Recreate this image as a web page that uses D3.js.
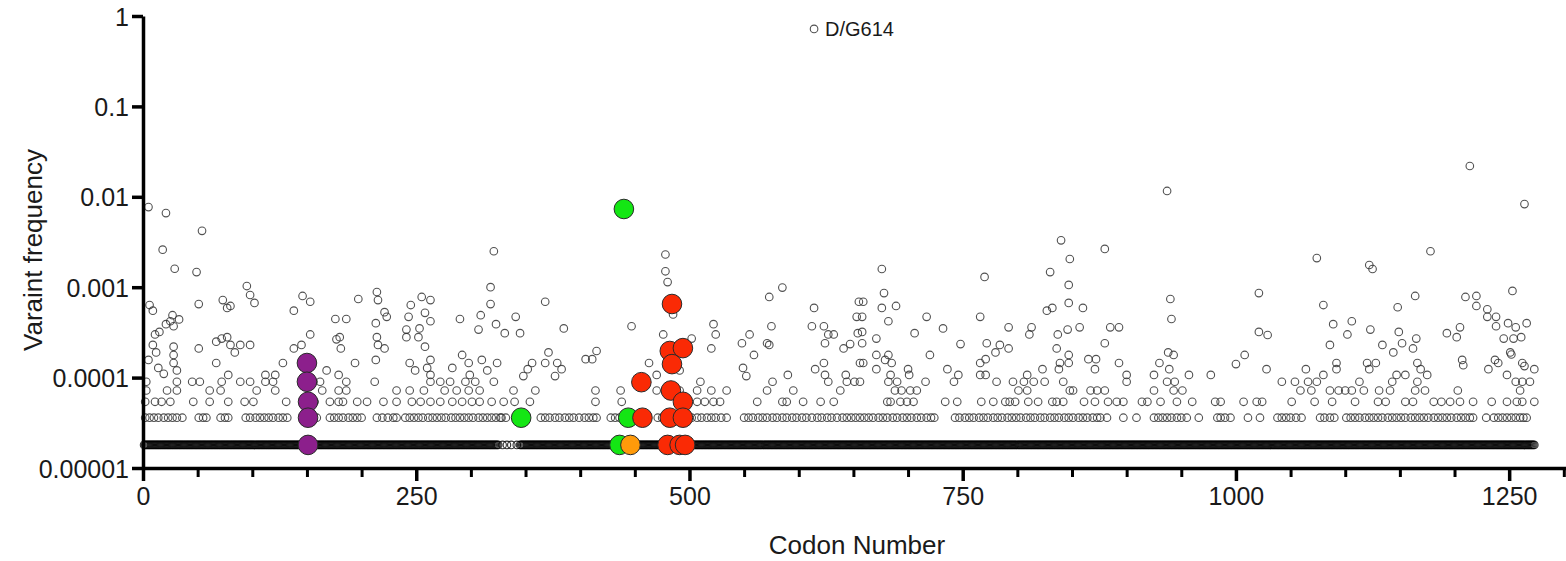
<!DOCTYPE html>
<html>
<head>
<meta charset="utf-8">
<script src="https://d3js.org/d3.v7.min.js"></script>
<style>
body { margin: 0; background: #fff; }
svg text { font-family: "Liberation Sans", Arial, sans-serif; fill: #1a1a1a; }
.axis path, .axis line { stroke: #000; }
</style>
</head>
<body>
<svg id="chart" width="1566" height="561"></svg>
<script>
// tick labels
const yTicks = [0.00001, 0.0001, 0.001, 0.01, 0.1, 1];
const yTickLabels = ["0.00001", "0.0001", "0.001", "0.01", "0.1", "1"];
const xTicks = [0, 250, 500, 750, 1000, 1250];
const xMinorTicks = [50, 100, 150, 200, 300, 350, 400, 450, 550, 600, 650, 700, 800, 850, 900, 950, 1050, 1100, 1150, 1200, 1300];

// frequency of a variant seen 1..5 times
const countLevels = [1.8e-5, 3.6e-5, 5.4e-5, 7.2e-5, 9.0e-5];

// codon stretches where a single-sequence variant sits (solid band at the bottom)
const singletonRuns = [[1, 325], [329, 329], [333, 333], [337, 337], [342, 342], [345, 1273]];

const doubletCodons = [2, 6, 10, 14, 19, 23, 27, 31, 36, 51, 55, 58, 71, 75, 78, 94, 98, 103, 107, 111, 115, 119, 124, 128, 132,
  147, 155, 159, 171, 175, 179, 183, 188, 192, 196, 200, 214, 219, 224, 229, 232, 240, 244, 248, 252, 256, 261, 265, 269, 273,
  277, 282, 286, 290, 294, 298, 302, 307, 311, 315, 319, 323, 327, 328, 332, 364, 368, 372, 377, 381, 386, 390, 394, 399, 404,
  408, 412, 415, 428, 432, 436, 440, 471, 475, 479, 486, 490, 498, 502, 507, 511, 516, 520, 524, 529, 534, 550, 554, 558, 563,
  567, 571, 576, 580, 585, 589, 594, 598, 603, 607, 612, 617, 621, 626, 630, 635, 640, 644, 648, 652, 656, 660, 664, 668, 673,
  677, 681, 686, 690, 695, 699, 703, 708, 712, 717, 721, 724, 743, 747, 752, 756, 760, 765, 769, 773, 778, 782, 786, 791, 795,
  799, 803, 808, 812, 816, 821, 825, 830, 834, 838, 843, 847, 851, 856, 860, 864, 869, 873, 876, 882, 897, 909, 925, 929, 933,
  937, 941, 946, 950, 955, 966, 983, 986, 990, 995, 1011, 1022, 1038, 1042, 1046, 1050, 1055, 1060, 1077, 1081, 1086, 1090,
  1101, 1105, 1109, 1113, 1118, 1122, 1126, 1130, 1134, 1139, 1143, 1147, 1151, 1155, 1160, 1164, 1168, 1172, 1176, 1181,
  1185, 1189, 1193, 1197, 1202, 1206, 1210, 1214, 1217, 1229, 1236, 1240, 1244, 1248, 1252, 1256, 1260, 1263, 1266];

const tripletCodons = [2, 11, 17, 25, 46, 61, 78, 93, 101, 131, 157, 171, 179, 183, 196, 205, 220, 232, 246, 254, 263, 272, 283,
  292, 301, 308, 319, 330, 340, 354, 414, 438, 507, 514, 522, 528, 562, 585, 589, 604, 620, 632, 681, 684, 693, 699, 705, 734,
  745, 767, 778, 789, 793, 798, 810, 819, 832, 836, 842, 861, 871, 883, 891, 897, 914, 919, 931, 946, 960, 981, 986, 1007,
  1019, 1024, 1051, 1072, 1088, 1109, 1130, 1137, 1155, 1162, 1181, 1188, 1196, 1205, 1217, 1234, 1248, 1257, 1262, 1273];

const quadCodons = [3, 22, 31, 61, 71, 104, 121, 164, 179, 186, 232, 244, 257, 276, 287, 298, 308, 339, 359, 414, 437, 470,
  491, 507, 520, 534, 571, 595, 638, 688, 694, 702, 708, 801, 809, 848, 851, 867, 873, 880, 925, 943, 951, 1059, 1069, 1086,
  1094, 1100, 1106, 1117, 1131, 1141, 1164, 1173, 1203, 1260];

const quintCodons = [3, 31, 45, 52, 72, 89, 98, 112, 119, 156, 162, 186, 212, 263, 272, 281, 295, 304, 321, 510, 576, 627, 644,
  651, 656, 682, 690, 716, 742, 781, 796, 806, 815, 825, 842, 900, 937, 944, 1042, 1054, 1066, 1074, 1113, 1143, 1166, 1256,
  1262, 1269];

// the rarer-than-row points: [codon, frequency]
const scatterPoints = [
  [5, 7.7e-3], [21, 6.6e-3], [54, 4.2e-3], [18, 2.6e-3], [29, 1.6e-3], [49, 1.47e-3], [95, 1.03e-3], [98, 8.2e-4],
  [102, 6.7e-4], [51, 6.5e-4], [6, 6.35e-4], [9, 5.5e-4], [73, 7.2e-4], [77, 5.9e-4], [80, 6.2e-4], [146, 8.0e-4],
  [153, 6.9e-4], [138, 5.5e-4], [197, 7.4e-4], [214, 8.85e-4], [215, 7.2e-4], [221, 5.3e-4], [223, 4.7e-4], [176, 4.45e-4],
  [186, 4.45e-4], [245, 6.35e-4], [255, 7.8e-4], [263, 7.2e-4], [258, 5.2e-4], [263, 4.2e-4], [243, 4.7e-4], [290, 4.45e-4],
  [321, 2.5e-3], [318, 1.0e-3], [318, 6.5e-4], [309, 4.9e-4], [307, 3.4e-4], [323, 3.9e-4], [213, 4.0e-4], [214, 2.8e-4],
  [215, 2.3e-4], [221, 2.1e-4], [213, 1.57e-4], [241, 3.4e-4], [241, 2.8e-4], [253, 3.5e-4], [252, 2.8e-4], [258, 2.2e-4],
  [263, 1.57e-4], [153, 3.0e-4], [145, 2.3e-4], [138, 2.1e-4], [128, 1.45e-4], [180, 2.8e-4], [177, 2.65e-4], [181, 2.1e-4],
  [194, 1.45e-4], [179, 1.07e-4], [168, 1.2e-4], [67, 2.5e-4], [72, 2.7e-4], [77, 2.8e-4], [80, 2.3e-4], [84, 1.9e-4],
  [67, 1.45e-4], [89, 2.3e-4], [98, 2.3e-4], [51, 2.1e-4], [11, 3.0e-4], [15, 3.2e-4], [21, 3.9e-4], [28, 3.7e-4],
  [25, 4.2e-4], [27, 4.9e-4], [33, 4.4e-4], [9, 2.3e-4], [12, 1.9e-4], [28, 2.2e-4], [28, 1.78e-4], [28, 1.45e-4],
  [31, 1.2e-4], [14, 1.28e-4], [19, 1.1e-4], [5, 1.57e-4], [112, 1.07e-4], [121, 1.07e-4], [78, 1.07e-4], [244, 1.45e-4],
  [249, 1.2e-4], [260, 1.28e-4], [283, 1.28e-4], [292, 1.78e-4], [298, 1.45e-4], [310, 1.57e-4], [315, 1.2e-4],
  [324, 1.45e-4], [263, 1.07e-4], [299, 1.07e-4],
  [478, 2.3e-3], [478, 1.5e-3], [480, 1.14e-3], [485, 5.0e-4], [368, 6.9e-4], [341, 4.7e-4], [345, 3.1e-4], [331, 3.1e-4],
  [385, 3.5e-4], [447, 3.7e-4], [476, 3.0e-4], [502, 2.7e-4], [520, 2.1e-4], [522, 3.9e-4], [524, 3.0e-4], [491, 1.2e-4],
  [371, 1.9e-4], [368, 1.45e-4], [379, 1.45e-4], [377, 1.04e-4], [383, 1.24e-4], [356, 1.45e-4], [352, 1.24e-4],
  [348, 1.04e-4], [405, 1.6e-4], [411, 1.6e-4], [415, 1.97e-4], [463, 1.45e-4], [470, 1.07e-4], [548, 2.4e-4],
  [555, 3.0e-4], [559, 1.78e-4], [571, 2.4e-4], [573, 2.3e-4], [575, 3.7e-4], [573, 7.8e-4], [585, 9.9e-4], [614, 5.9e-4],
  [612, 3.7e-4], [623, 3.7e-4], [624, 2.4e-4], [627, 3.0e-4], [632, 3.0e-4], [641, 2.1e-4], [647, 2.35e-4], [655, 6.9e-4],
  [653, 4.7e-4], [654, 3.1e-4], [656, 1.45e-4], [549, 1.28e-4], [552, 1.04e-4], [590, 1.07e-4], [615, 1.24e-4],
  [623, 1.45e-4], [624, 1.07e-4], [643, 1.07e-4],
  [937, 1.16e-2], [840, 3.3e-3], [880, 2.65e-3], [848, 2.05e-3], [830, 1.47e-3], [676, 1.59e-3], [770, 1.3e-3],
  [847, 1.06e-3], [678, 8.6e-4], [940, 7.4e-4], [941, 4.45e-4], [847, 6.7e-4], [860, 5.9e-4], [832, 5.9e-4], [827, 5.5e-4],
  [676, 5.9e-4], [689, 6.2e-4], [682, 4.2e-4], [717, 4.7e-4], [732, 3.5e-4], [766, 4.7e-4], [792, 3.6e-4], [813, 3.6e-4],
  [811, 3.0e-4], [846, 3.4e-4], [857, 3.6e-4], [885, 3.6e-4], [893, 3.6e-4], [880, 2.4e-4], [837, 3.0e-4], [706, 3.1e-4],
  [659, 6.9e-4], [658, 4.7e-4], [658, 3.2e-4], [658, 2.4e-4], [748, 2.35e-4], [772, 2.4e-4], [784, 2.3e-4], [792, 2.1e-4],
  [780, 1.9e-4], [671, 2.7e-4], [720, 1.78e-4], [671, 1.78e-4], [682, 1.78e-4], [659, 1.45e-4], [671, 1.24e-4],
  [679, 1.57e-4], [685, 1.45e-4], [684, 1.07e-4], [700, 1.24e-4], [701, 1.07e-4], [736, 1.24e-4], [746, 1.07e-4],
  [766, 1.45e-4], [771, 1.6e-4], [766, 1.07e-4], [771, 1.07e-4], [809, 1.07e-4], [823, 1.24e-4], [836, 2.1e-4],
  [839, 1.45e-4], [847, 1.78e-4], [838, 1.24e-4], [847, 1.45e-4], [865, 1.6e-4], [872, 1.6e-4], [871, 1.24e-4],
  [893, 1.45e-4], [900, 1.07e-4], [925, 1.07e-4], [930, 1.45e-4], [939, 1.24e-4], [938, 1.9e-4], [943, 1.78e-4],
  [957, 1.07e-4], [977, 1.07e-4],
  [1264, 8.3e-3], [1214, 2.19e-2], [1178, 2.5e-3], [1074, 2.1e-3], [1122, 1.76e-3], [1125, 1.59e-3], [1021, 8.6e-4],
  [1080, 6.35e-4], [1164, 8.0e-4], [1148, 6.0e-4], [1210, 7.8e-4], [1220, 8.0e-4], [1253, 9.1e-4], [1220, 6.2e-4],
  [1230, 5.7e-4], [1238, 4.7e-4], [1230, 4.7e-4], [1238, 3.7e-4], [1249, 4.0e-4], [1256, 3.6e-4], [1266, 4.0e-4],
  [1021, 3.2e-4], [1029, 2.96e-4], [1089, 3.9e-4], [1106, 4.2e-4], [1102, 3.0e-4], [1086, 2.3e-4], [1123, 3.4e-4],
  [1149, 3.2e-4], [1152, 2.4e-4], [1134, 2.3e-4], [1144, 1.9e-4], [1165, 2.7e-4], [1162, 2.1e-4], [1193, 3.1e-4],
  [1205, 3.6e-4], [1202, 2.8e-4], [1245, 2.7e-4], [1254, 2.7e-4], [1261, 2.8e-4], [1251, 1.9e-4], [1252, 1.8e-4],
  [1000, 1.41e-4], [1008, 1.78e-4], [1028, 1.24e-4], [1064, 1.24e-4], [1080, 1.07e-4], [1092, 1.45e-4], [1092, 1.24e-4],
  [1120, 1.45e-4], [1128, 1.45e-4], [1122, 1.24e-4], [1147, 1.07e-4], [1155, 1.07e-4], [1166, 1.45e-4], [1169, 1.24e-4],
  [1175, 1.07e-4], [1207, 1.57e-4], [1208, 1.37e-4], [1231, 1.24e-4], [1237, 1.57e-4], [1240, 1.45e-4], [1248, 1.07e-4],
  [1262, 1.45e-4], [1264, 1.34e-4], [1273, 1.24e-4],
  [614, 0.72]
];

// highlighted sites
const purplePoints = [[150, 1.45e-4], [150, 9.0e-5], [151, 5.4e-5], [151, 3.6e-5], [151, 1.8e-5]];
const greenPoints = [[440, 7.33e-3], [346, 3.6e-5], [444, 3.6e-5], [436, 1.8e-5]];
const orangePoints = [[446, 1.8e-5]];
const redPoints = [[484, 6.52e-4], [482, 1.97e-4], [494, 2.12e-4], [484, 1.41e-4], [456, 8.9e-5], [483, 7.2e-5],
  [494, 5.4e-5], [482, 3.6e-5], [494, 3.6e-5], [457, 3.6e-5], [480, 1.8e-5], [491, 1.8e-5], [496, 1.8e-5]];

const svg = d3.select("#chart");
const margin = {top: 16, left: 143};
const x = d3.scaleLinear().domain([0, 1302]).range([margin.left, 1566]);
const y = d3.scaleLog().domain([1e-5, 1]).range([468, margin.top]);

// build all open points
let openPts = [];
singletonRuns.forEach(function(r) {
  for (let c = r[0]; c <= r[1]; c++) openPts.push([c, countLevels[0]]);
});
[doubletCodons, tripletCodons, quadCodons, quintCodons].forEach(function(list, i) {
  list.forEach(function(c) { openPts.push([c, countLevels[i + 1]]); });
});
openPts = openPts.concat(scatterPoints);

svg.append("g").selectAll("circle")
  .data(openPts)
  .enter().append("circle")
  .attr("cx", d => x(d[0]))
  .attr("cy", d => y(d[1]))
  .attr("r", 3.8)
  .attr("fill", "none")
  .attr("stroke", d => d[1] === countLevels[0] ? "#000" : "#333")
  .attr("stroke-opacity", d => d[1] === countLevels[0] ? 0.8 : 0.85)
  .attr("stroke-width", 1.1);

const groups = [
  {pts: purplePoints, color: "#8c1f8c"},
  {pts: greenPoints, color: "#14e614"},
  {pts: orangePoints, color: "#ff9a0a"},
  {pts: redPoints, color: "#fa2a05"}
];
groups.forEach(function(g) {
  svg.append("g").selectAll("circle")
    .data(g.pts)
    .enter().append("circle")
    .attr("cx", d => x(d[0]))
    .attr("cy", d => y(d[1]))
    .attr("r", 9.8)
    .attr("fill", g.color)
    .attr("stroke", "#2a2a2a")
    .attr("stroke-width", 1);
});

// axes
const yAxis = d3.axisLeft(y)
  .tickValues(yTicks)
  .tickFormat((d, i) => yTickLabels[i])
  .tickSize(11).tickSizeOuter(0).tickPadding(3);
const gy = svg.append("g").attr("class", "axis")
  .attr("transform", "translate(" + margin.left + ",0)")
  .call(yAxis);
gy.select(".domain").attr("stroke-width", 3.5);
gy.selectAll(".tick line").attr("stroke-width", 3.5);
gy.selectAll("text").style("font-size", "25px").attr("dy", "0.36em");

const xAxis = d3.axisBottom(x).tickValues(xTicks).tickFormat(d3.format("d"))
  .tickSize(13).tickSizeOuter(0).tickPadding(6);
const gx = svg.append("g").attr("class", "axis")
  .attr("transform", "translate(0,468)")
  .call(xAxis);
gx.select(".domain").attr("stroke-width", 3.5);
gx.selectAll(".tick line").attr("stroke-width", 3.5);
gx.selectAll("text").style("font-size", "25px");

const gxm = svg.append("g").attr("class", "axis")
  .attr("transform", "translate(0,468)")
  .call(d3.axisBottom(x).tickValues(xMinorTicks).tickFormat("").tickSize(9).tickSizeOuter(0));
gxm.select(".domain").remove();
gxm.selectAll(".tick line").attr("stroke-width", 3);

// titles
svg.append("text")
  .attr("x", 857).attr("y", 554)
  .attr("text-anchor", "middle")
  .style("font-size", "26px")
  .text("Codon Number");

svg.append("text")
  .attr("transform", "translate(42,250) rotate(-90)")
  .attr("text-anchor", "middle")
  .style("font-size", "26px")
  .text("Varaint frequency");

svg.append("text")
  .attr("x", x(614) + 11).attr("y", y(0.72) + 7)
  .style("font-size", "20px")
  .text("D/G614");
</script>
</body>
</html>
